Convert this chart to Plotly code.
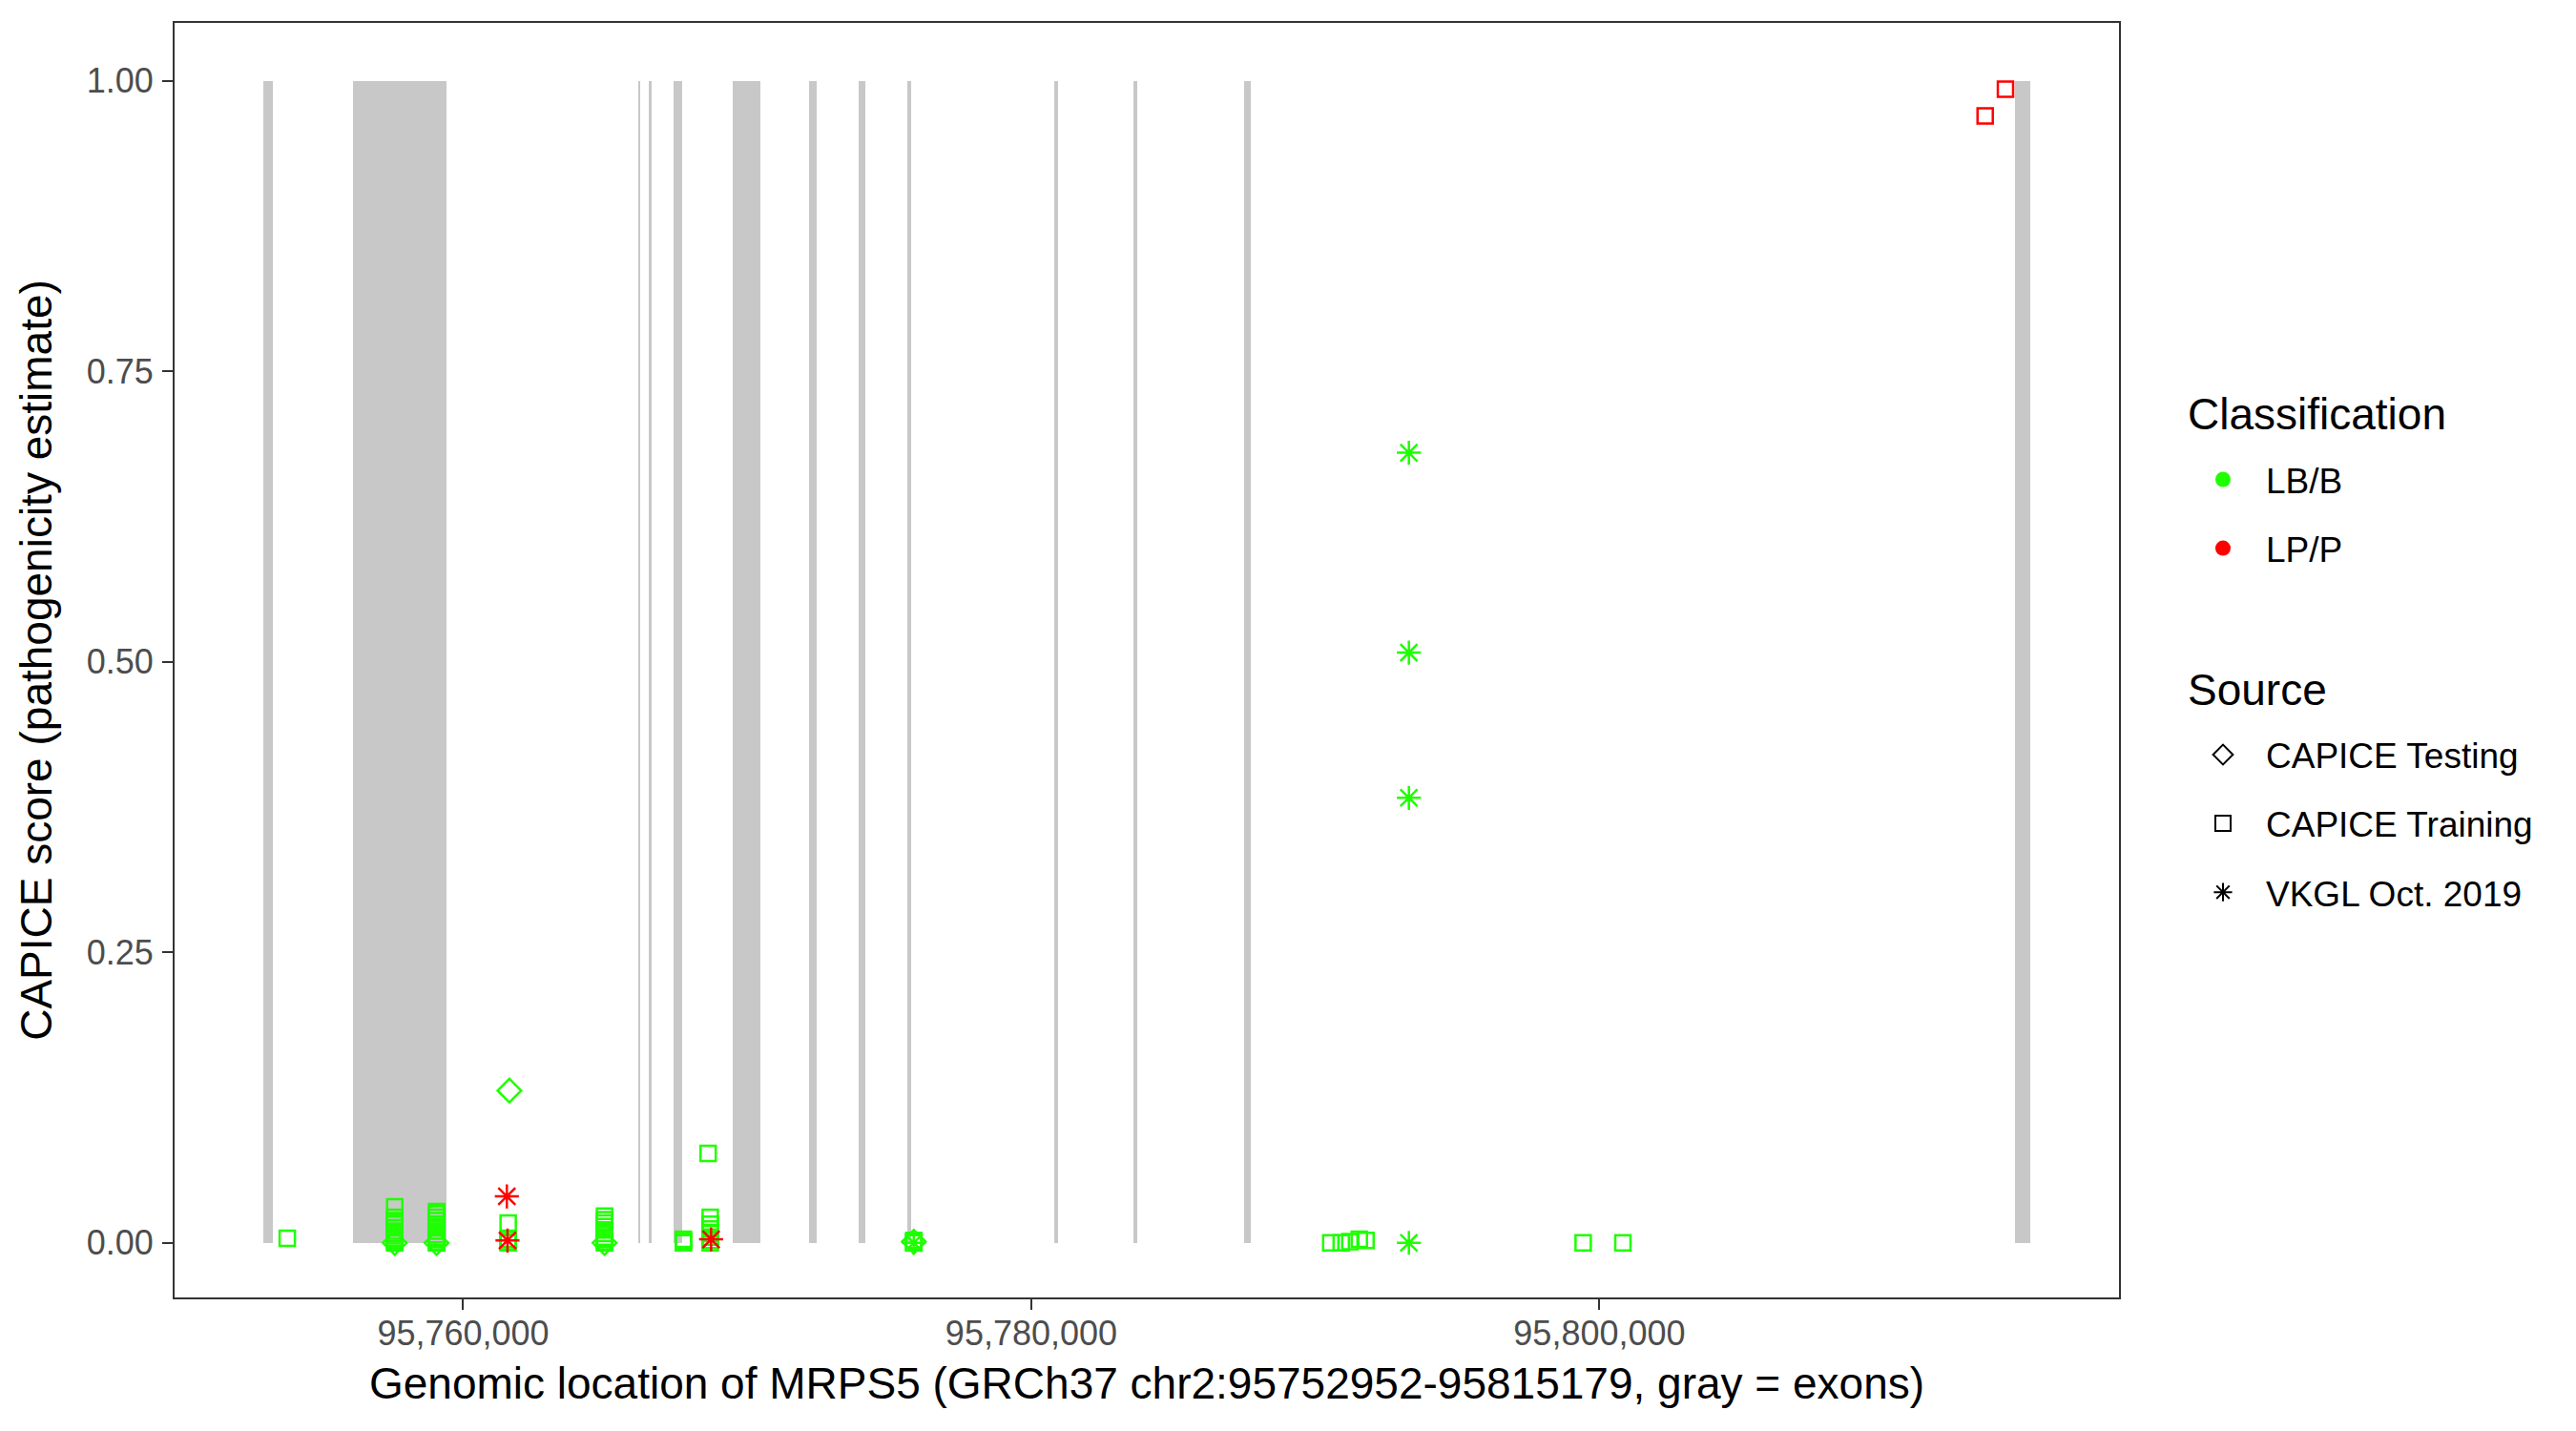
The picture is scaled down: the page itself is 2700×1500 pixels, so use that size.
import plotly.graph_objects as go

GREEN = "#1EFF00"
RED = "#FF0000"
EXON_GRAY = "#C8C8C8"
FONT = "Liberation Sans"

GENE_START = 95752952
GENE_END = 95815179

# exon coordinates (GRCh37)
exon_starts = [95752952, 95756134, 95766171, 95766530, 95767402, 95769481,
               95772164, 95773908, 95775641, 95780816, 95783599, 95787489,
               95814618]
exon_ends = [95753311, 95759421, 95766245, 95766631, 95767704, 95770454,
             95772432, 95774142, 95775786, 95780950, 95783733, 95787724,
             95815179]

# LB/B, CAPICE Training
lbb_train_pos = (
    [95753807]
    + [95757590] * 12
    + [95759062] * 12
    + [95761584] * 4
    + [95764977] * 10
    + [95767751] * 4
    + [95768623]
    + [95768697] * 7
    + [95775863] * 3
    + [95790541, 95790910, 95791212, 95791547, 95791782, 95799427, 95800825]
)
lbb_train_score = (
    [0.004]
    + [0.031, 0.022, 0.019, 0.016, 0.013, 0.010, 0.008, 0.006, 0.004, 0.002, 0.001, 0.0]
    + [0.027, 0.025, 0.022, 0.019, 0.016, 0.013, 0.010, 0.007, 0.005, 0.003, 0.001, 0.0]
    + [0.017, 0.003, 0.001, 0.0]
    + [0.023, 0.020, 0.017, 0.014, 0.011, 0.008, 0.005, 0.003, 0.001, 0.0]
    + [0.003, 0.002, 0.001, 0.0]
    + [0.077]
    + [0.022, 0.016, 0.012, 0.008, 0.005, 0.002, 0.0]
    + [0.002, 0.001, 0.0]
    + [0.0, 0.0, 0.001, 0.003, 0.002, 0.0, 0.0]
)

# LB/B, CAPICE Testing
lbb_test_pos = [95761627, 95757590, 95759062, 95764977, 95775863]
lbb_test_score = [0.131, 0.0, 0.0, 0.0, 0.001]

# LB/B, VKGL Oct. 2019
lbb_vkgl_pos = [95793292, 95793292, 95793292, 95793292, 95775863]
lbb_vkgl_score = [0.680, 0.508, 0.383, 0.0, 0.0]

# LP/P, CAPICE Training
lpp_train_pos = [95813579, 95814294]
lpp_train_score = [0.970, 0.993]

# LP/P, VKGL Oct. 2019
lpp_vkgl_pos = [95761537, 95761560, 95768727]
lpp_vkgl_score = [0.040, 0.002, 0.003]

classes = ["LB/B", "LP/P"]
sources = ["CAPICE Testing", "CAPICE Training", "VKGL Oct. 2019"]

SYMBOLS = {"CAPICE Testing": "diamond-open",
           "CAPICE Training": "square-open",
           "VKGL Oct. 2019": "asterisk-open"}
SIZES = {"CAPICE Testing": 19, "CAPICE Training": 16, "VKGL Oct. 2019": 21}
CLASS_COLORS = {"LB/B": GREEN, "LP/P": RED}

fig = go.Figure()

# exons as bars from 0 to 1
fig.add_trace(go.Bar(
    x=[(s + e) / 2 for s, e in zip(exon_starts, exon_ends)],
    y=[1] * len(exon_starts),
    width=[e - s for s, e in zip(exon_starts, exon_ends)],
    base=0,
    marker=dict(color=EXON_GRAY, line=dict(width=0)),
    showlegend=False,
    hoverinfo="skip",
))

groups = [
    (lbb_train_pos, lbb_train_score, "LB/B", "CAPICE Training"),
    (lbb_test_pos, lbb_test_score, "LB/B", "CAPICE Testing"),
    (lbb_vkgl_pos, lbb_vkgl_score, "LB/B", "VKGL Oct. 2019"),
    (lpp_train_pos, lpp_train_score, "LP/P", "CAPICE Training"),
    (lpp_vkgl_pos, lpp_vkgl_score, "LP/P", "VKGL Oct. 2019"),
]
for pos, score, cls, source in groups:
    color = CLASS_COLORS[cls]
    fig.add_trace(go.Scatter(
        x=pos, y=score, mode="markers",
        marker=dict(symbol=SYMBOLS[source], size=SIZES[source], color=color,
                    line=dict(width=2.5, color=color)),
        showlegend=False,
    ))

# legend entries (titles are drawn as annotations)
for cls in classes:
    fig.add_trace(go.Scatter(
        x=[None], y=[None], mode="markers", name=cls,
        marker=dict(symbol="circle", size=18, color=CLASS_COLORS[cls]),
        legend="legend", legendgroup=cls,
    ))
for source in sources:
    fig.add_trace(go.Scatter(
        x=[None], y=[None], mode="markers", name=source,
        marker=dict(symbol=SYMBOLS[source], size=16, color="black",
                    line=dict(width=2, color="black")),
        legend="legend2", legendgroup=source,
    ))

pad = 0.05 * (GENE_END - GENE_START)
xticks = [95760000, 95780000, 95800000]

axis_common = dict(
    showgrid=False, zeroline=False, showline=True, mirror=True,
    linecolor="#333333", linewidth=2,
    ticks="outside", ticklen=11, tickwidth=2, tickcolor="#333333",
    tickfont=dict(family=FONT, size=36, color="#4D4D4D"),
)

legend_common = dict(
    font=dict(family=FONT, size=37, color="black"),
    xanchor="left", yanchor="top", itemwidth=80,
    tracegroupgap=21, bgcolor="rgba(0,0,0,0)",
)

fig.update_layout(
    width=2700, height=1500,
    margin=dict(l=175, r=487, t=16, b=148),
    plot_bgcolor="white", paper_bgcolor="white",
    font=dict(family=FONT, color="black"),
    bargap=0,
    xaxis=dict(
        range=[GENE_START - pad, GENE_END + pad],
        tickvals=xticks, ticktext=[f"{v:,}" for v in xticks],
        ticklabelstandoff=-6,
        title=dict(text="Genomic location of MRPS5 (GRCh37 chr2:95752952-95815179, gray = exons)",
                   font=dict(family=FONT, size=46, color="black"), standoff=17),
        **axis_common,
    ),
    yaxis=dict(
        range=[-0.047, 1.05],
        tickvals=[0, 0.25, 0.5, 0.75, 1.0],
        ticktext=["0.00", "0.25", "0.50", "0.75", "1.00"],
        ticklabelstandoff=2,
        title=dict(text="CAPICE score (pathogenicity estimate)",
                   font=dict(family=FONT, size=46, color="black"), standoff=22),
        **axis_common,
    ),
    legend=dict(x=1.0314, y=0.6647, **legend_common),
    legend2=dict(x=1.0314, y=0.4488, **legend_common),
    annotations=[
        dict(text="Classification", x=1.0343, y=0.6931, xref="paper", yref="paper",
             xanchor="left", yanchor="middle", showarrow=False,
             font=dict(family=FONT, size=46, color="black")),
        dict(text="Source", x=1.0343, y=0.4768, xref="paper", yref="paper",
             xanchor="left", yanchor="middle", showarrow=False,
             font=dict(family=FONT, size=46, color="black")),
    ],
)

fig.write_html("out.html")
